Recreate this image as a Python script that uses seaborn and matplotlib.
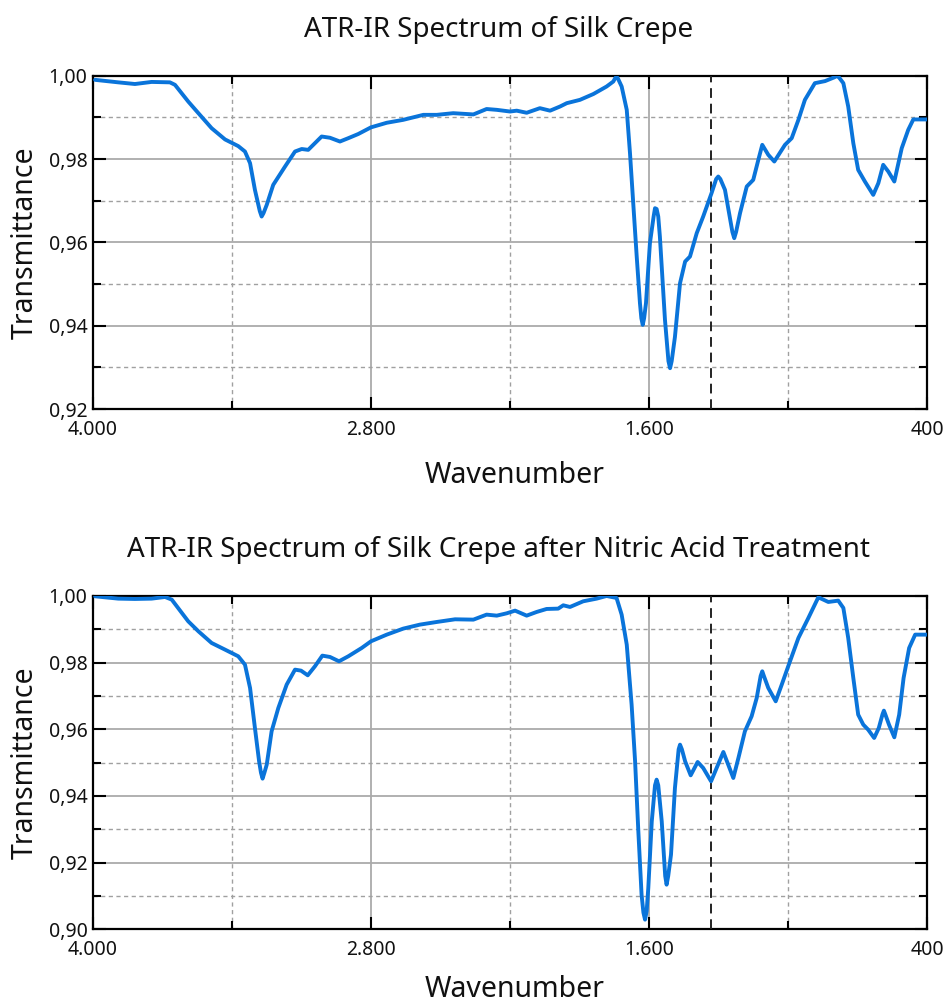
import matplotlib
matplotlib.use("Agg")
import matplotlib.pyplot as plt
import seaborn as sns
import numpy as np
import pandas as pd
from matplotlib.ticker import FixedLocator, FuncFormatter

# ---------------- data ----------------
wn_silk = [3991, 3891, 3819, 3747, 3668, 3646, 3589, 3545, 3488, 3430, 3373, 3344,
           3322, 3301, 3280, 3272, 3264, 3250, 3222, 3171, 3128, 3099, 3071, 3042,
           3013, 2977, 2934, 2898, 2855, 2800, 2732, 2661, 2574, 2516, 2445, 2358,
           2301, 2257, 2200, 2171, 2128, 2071, 2027, 1984, 1955, 1898, 1840, 1783,
           1754, 1746, 1740, 1733, 1718, 1696, 1682, 1668, 1653, 1639, 1633, 1627,
           1621, 1613, 1596, 1580, 1574, 1567, 1560, 1553, 1531, 1516, 1509, 1502,
           1488, 1466, 1444, 1423, 1394, 1366, 1330, 1310, 1301, 1292, 1272, 1240,
           1232, 1224, 1207, 1178, 1150, 1128, 1111, 1085, 1059, 1013, 984, 955,
           927, 884, 840, 800, 790, 780, 761, 740, 718, 697, 668, 632, 610, 589,
           567, 541, 509, 481, 459, 400]
tr_silk = [0.9990, 0.9984, 0.9980, 0.9985, 0.9984, 0.9978, 0.9938, 0.9910, 0.9874,
           0.9847, 0.9831, 0.9818, 0.9790, 0.9726, 0.9675, 0.9662, 0.9670, 0.9690,
           0.9738, 0.9782, 0.9818, 0.9824, 0.9822, 0.9838, 0.9854, 0.9851, 0.9842,
           0.9850, 0.9860, 0.9876, 0.9887, 0.9894, 0.9906, 0.9906, 0.9910, 0.9907,
           0.9920, 0.9918, 0.9914, 0.9916, 0.9911, 0.9922, 0.9916, 0.9926, 0.9934,
           0.9942, 0.9956, 0.9974, 0.9986, 0.9994, 0.9998, 0.9992, 0.9974, 0.9918,
           0.9814, 0.9694, 0.9566, 0.9454, 0.9418, 0.9402, 0.9418, 0.9454, 0.9598,
           0.9662, 0.9682, 0.9680, 0.9662, 0.9614, 0.9414, 0.9315, 0.9298, 0.9315,
           0.9373, 0.9502, 0.9554, 0.9566, 0.9622, 0.9662, 0.9718, 0.9752, 0.9758,
           0.9752, 0.9726, 0.9625, 0.9610, 0.9625, 0.9670, 0.9734, 0.9750, 0.9798,
           0.9834, 0.9810, 0.9794, 0.9834, 0.9850, 0.9894, 0.9942, 0.9982, 0.9987,
           0.9996, 0.9999, 0.9996, 0.9982, 0.9926, 0.9838, 0.9774, 0.9746, 0.9714,
           0.9742, 0.9786, 0.9770, 0.9746, 0.9826, 0.9870, 0.9895, 0.9895]

wn_acid = [3991, 3891, 3819, 3747, 3689, 3660, 3589, 3545, 3488, 3430, 3373, 3344,
           3322, 3301, 3283, 3275, 3268, 3260, 3250, 3229, 3200, 3164, 3128, 3102,
           3073, 3042, 3010, 2977, 2938, 2898, 2840, 2800, 2732, 2661, 2589, 2516,
           2437, 2358, 2301, 2257, 2214, 2178, 2128, 2085, 2042, 1992, 1970, 1941,
           1884, 1826, 1783, 1740, 1718, 1696, 1675, 1660, 1646, 1632, 1624, 1617,
           1610, 1603, 1588, 1574, 1567, 1560, 1545, 1530, 1524, 1517, 1505, 1488,
           1472, 1466, 1458, 1444, 1420, 1390, 1366, 1332, 1308, 1279, 1258, 1236,
           1214, 1186, 1157, 1135, 1118, 1111, 1104, 1085, 1053, 1027, 999, 955,
           912, 869, 826, 783, 761, 740, 718, 697, 675, 654, 628, 608, 592, 586,
           580, 564, 541, 520, 501, 477, 451, 400]
tr_acid = [0.9999, 0.9992, 0.9991, 0.9992, 0.9997, 0.9989, 0.9924, 0.9894, 0.9859,
           0.9839, 0.9819, 0.9794, 0.9724, 0.9604, 0.9504, 0.9470, 0.9452, 0.9470,
           0.9494, 0.9594, 0.9664, 0.9734, 0.9779, 0.9776, 0.9762, 0.9789, 0.9821,
           0.9817, 0.9804, 0.9819, 0.9844, 0.9864, 0.9884, 0.9902, 0.9914, 0.9922,
           0.9930, 0.9929, 0.9944, 0.9941, 0.9948, 0.9956, 0.9941, 0.9952, 0.9961,
           0.9962, 0.9972, 0.9967, 0.9984, 0.9992, 1.0000, 0.9994, 0.9944, 0.9854,
           0.9674, 0.9504, 0.9294, 0.9104, 0.9050, 0.9029, 0.9055, 0.9124, 0.9324,
           0.9432, 0.9449, 0.9432, 0.9324, 0.9160, 0.9134, 0.9160, 0.9224, 0.9424,
           0.9540, 0.9554, 0.9540, 0.9504, 0.9462, 0.9502, 0.9484, 0.9444, 0.9484,
           0.9532, 0.9494, 0.9454, 0.9514, 0.9594, 0.9639, 0.9694, 0.9760, 0.9774,
           0.9760, 0.9724, 0.9684, 0.9734, 0.9789, 0.9874, 0.9934, 0.9996, 0.9982,
           0.9986, 0.9964, 0.9874, 0.9754, 0.9644, 0.9614, 0.9599, 0.9574, 0.9604,
           0.9645, 0.9656, 0.9645, 0.9614, 0.9576, 0.9644, 0.9754, 0.9844, 0.9884,
           0.9884]

titles = ["ATR-IR Spectrum of Silk Crepe",
          "ATR-IR Spectrum of Silk Crepe after Nitric Acid Treatment"]
x_major = [4000, 2800, 1600, 400]
x_minor = [3400, 2200, 1000]
x_ref = 1332
y_ranges = [(0.92, 1.00), (0.90, 1.00)]

# ---------------- style ----------------
sns.set_theme(style="white")
plt.rcParams['font.family'] = ['Noto Sans', 'DejaVu Sans']

line_color = "#0a74da"
fig = plt.figure(figsize=(9.46, 10.05), dpi=100)
ax_pos = [[0.0983, 0.5930, 0.8816, 0.3317],
          [0.0983, 0.0753, 0.8816, 0.3317]]
xlabel_y = [-0.155, -0.137]

series = [(wn_silk, tr_silk), (wn_acid, tr_acid)]


def xfmt(v, _):
    return f"{int(round(v)):,}".replace(",", ".")


def yfmt(v, _):
    return f"{v:.2f}".replace(".", ",")


for i, (wn, tr) in enumerate(series):
    ax = fig.add_axes(ax_pos[i])
    df = pd.DataFrame({"Wavenumber": wn, "Transmittance": tr})
    sns.lineplot(data=df, x="Wavenumber", y="Transmittance", ax=ax,
                 color=line_color, linewidth=2.8, sort=False, estimator=None,
                 zorder=5, solid_joinstyle="round", solid_capstyle="round")
    lo, hi = y_ranges[i]
    ax.set_xlim(4000, 400)
    ax.set_ylim(lo, hi)

    ax.xaxis.set_major_locator(FixedLocator(x_major))
    ax.xaxis.set_minor_locator(FixedLocator(x_minor))
    yt = np.round(np.arange(lo, hi + 1e-9, 0.02), 2)
    ytm = np.round(np.arange(lo + 0.01, hi, 0.02), 2)
    ax.yaxis.set_major_locator(FixedLocator(yt))
    ax.yaxis.set_minor_locator(FixedLocator(ytm))
    ax.xaxis.set_major_formatter(FuncFormatter(xfmt))
    ax.yaxis.set_major_formatter(FuncFormatter(yfmt))

    ax.grid(which="major", color="#aaaaaa", linestyle="-", linewidth=1.3, zorder=1)
    ax.grid(which="minor", color="#a0a0a0", linestyle=(0, (3, 2.5)), linewidth=1.0, zorder=1)
    ax.axvline(x_ref, color="#222222", linestyle=(0, (5, 3)), linewidth=1.4, zorder=3)
    ax.set_axisbelow(True)

    ax.tick_params(which="both", direction="in", top=True, right=True,
                   bottom=True, left=True, color="black", labelsize=14,
                   labelcolor="#111111")
    ax.tick_params(which="major", length=9, width=1.5)
    ax.tick_params(which="minor", length=6, width=1.5)
    ax.tick_params(axis="x", which="major", pad=8)
    ax.tick_params(axis="y", which="major", pad=4)

    for s in ax.spines.values():
        s.set_color("black")
        s.set_linewidth(1.6)
        s.set_visible(True)

    ax.set_title(titles[i], fontsize=20, pad=28, color="#111111", x=0.486)
    ax.set_xlabel("Wavenumber", fontsize=20.5, color="#111111")
    ax.xaxis.set_label_coords(0.506, xlabel_y[i])
    ax.set_ylabel("Transmittance", fontsize=20.5, labelpad=6, color="#111111")

fig.savefig("out.png", dpi=100)
